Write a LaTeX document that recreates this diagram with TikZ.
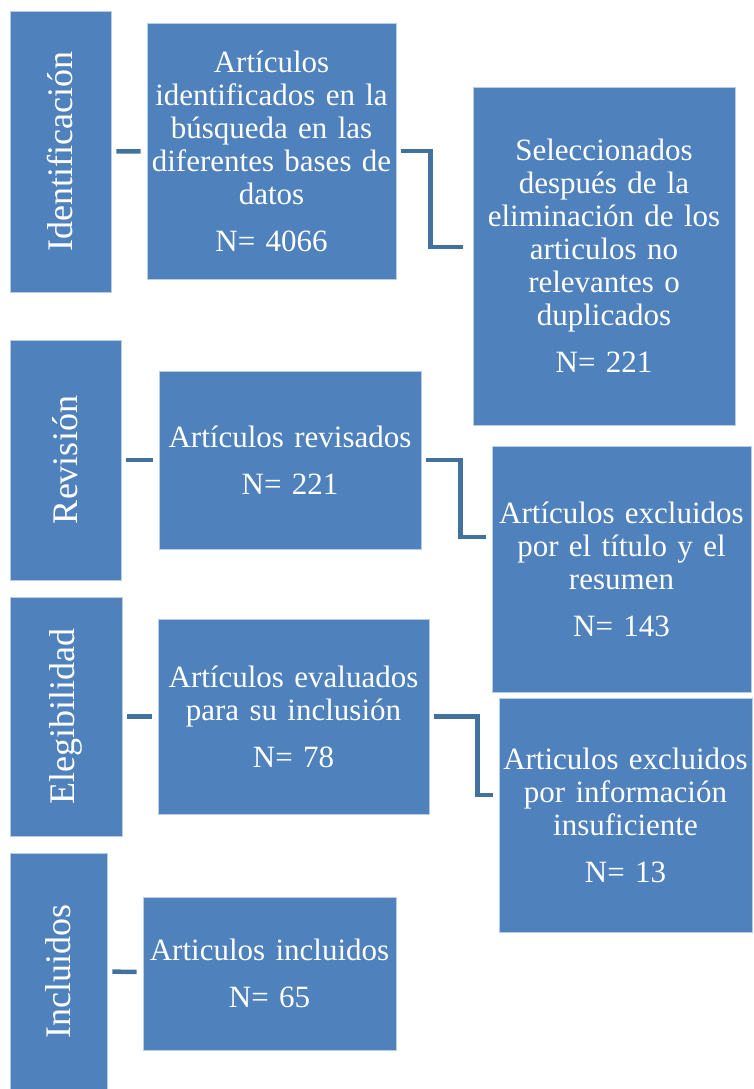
\documentclass[tikz,border=0pt]{standalone}
\usepackage{fontspec}
\setmainfont{Liberation Serif}
\usepackage{graphicx}
\usepackage{tikz}

\definecolor{boxblue}{HTML}{4F81BD}
\definecolor{linkblue}{HTML}{41719C}
\definecolor{boxedge}{HTML}{B9CDE5}

\tikzset{
  stage/.style={rectangle, fill=boxblue, draw=boxedge, line width=0.8pt,
    inner sep=0pt, text=white, font=\fontsize{36}{40}\selectfont},
  item/.style={rectangle, fill=boxblue, draw=boxedge, line width=0.8pt,
    inner sep=0pt, text=white, align=center, font=\fontsize{31}{33}\selectfont},
  link/.style={draw=linkblue, line width=4.5pt, shorten <=5pt, shorten >=6pt},
}

\begin{document}
\begin{tikzpicture}[x=1pt, y=-1pt]
\useasboundingbox (0,0) rectangle (754,1089);

% etapas
\node[stage, minimum width=101pt, minimum height=281pt] (sident) at (60.5,151.5) {\rotatebox{90}{Identificación}};
\node[stage, minimum width=111pt, minimum height=240pt] (srev) at (65.5,460) {\rotatebox{90}{Revisión}};
\node[stage, minimum width=112pt, minimum height=239pt] (seleg) at (66,716.5) {\rotatebox{90}{Elegibilidad}};
\node[stage, minimum width=97pt, minimum height=236pt] (sincl) at (58.5,971) {\rotatebox{90}{Incluidos}};

% cajas
\node[item, minimum width=249pt, minimum height=256pt, text width=247pt] (ident) at (271.5,151)
  {Artículos\\identificados en la\\búsqueda en las\\diferentes bases de\\datos\\[14pt]N= 4066};
\node[item, minimum width=262pt, minimum height=338pt, text width=258pt] (sel) at (604,256)
  {Seleccionados\\después de la\\eliminación de los\\articulos no\\relevantes o\\duplicados\\[14pt]N= 221};
\node[item, minimum width=262pt, minimum height=178pt, text width=258pt] (rev) at (290,460)
  {Artículos revisados\\[14pt]N= 221};
\node[item, minimum width=259pt, minimum height=246pt, text width=257pt] (exclt) at (621.5,569)
  {Artículos excluidos\\por el título y el\\resumen\\[14pt]N= 143};
\node[item, minimum width=271pt, minimum height=195pt, text width=267pt] (eval) at (293.5,716.5)
  {Artículos evaluados\\para su inclusión\\[14pt]N= 78};
\node[item, minimum width=253pt, minimum height=234pt, text width=251pt] (excli) at (625.5,815)
  {Articulos excluidos\\por información\\insuficiente\\[14pt]N= 13};
\node[item, minimum width=253pt, minimum height=153pt, text width=251pt] (incl) at (269.5,973.5)
  {Articulos incluidos\\[14pt]N= 65};

% conectores
\draw[link] (sident) -- (ident);
\draw[link] (srev) -- (rev);
\draw[link] (seleg) -- (eval);
\draw[link] (sincl) -- (incl);
\draw[link, shorten >=10pt] (ident.east) -- ++(34,0) |- ([yshift=9pt]sel.west);
\draw[link] (rev.east) -- ++(39,0) |- ([yshift=32pt]exclt.west);
\draw[link] (eval.east) -- ++(48,0) |- ([yshift=20pt]excli.west);

\end{tikzpicture}
\end{document}
